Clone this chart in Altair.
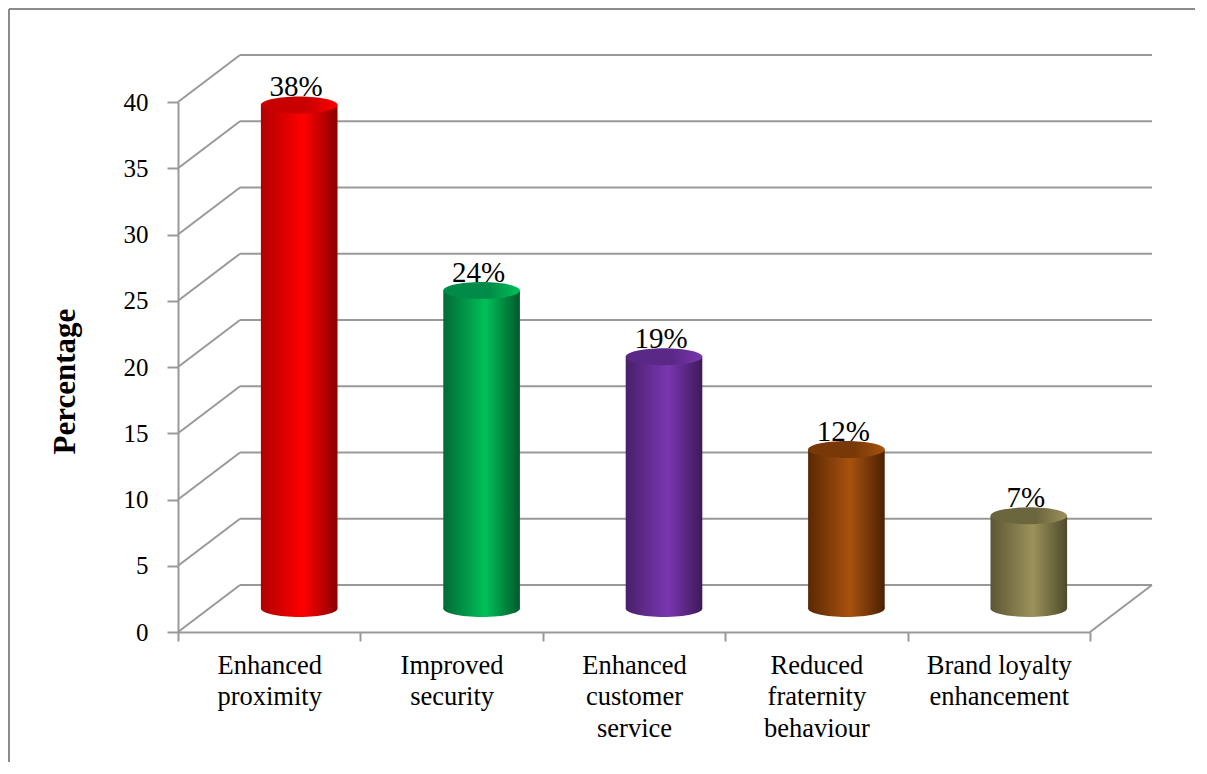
import altair as alt
import pandas as pd

categories = [
    "Enhanced|proximity",
    "Improved|security",
    "Enhanced|customer|service",
    "Reduced|fraternity|behaviour",
    "Brand loyalty|enhancement",
]
values = [38, 24, 19, 12, 7]
value_labels = ["38%", "24%", "19%", "12%", "7%"]
y_ticks = [0, 5, 10, 15, 20, 25, 30, 35, 40]

edge_left = ["#B00000", "#006A36", "#48206A", "#5A2804", "#5C5634"]
mid_colors = ["#FF0000", "#00C058", "#7A36B0", "#A8520E", "#9C925C"]
edge_right = ["#8C0000", "#005A2C", "#3C1A5A", "#4A2003", "#4E4A2C"]
top_colors = ["#C80000", "#008C48", "#5A2886", "#783808", "#6C663E"]

W, H = 912, 530
DX, DY = 62, 47
BAR_DX, BAR_DY = 30, -23.5
BAR_FRAC = 0.42
BAR_W = W / len(categories) * BAR_FRAC
GRID = "#999999"
FONT = "'Liberation Serif', 'Times New Roman', serif"
ELLIPSE = "M -1 0 A 1 0.22 0 1 0 1 0 A 1 0.22 0 1 0 -1 0 Z"

df = pd.DataFrame({"cat": categories, "value": values, "label": value_labels})
ticks = pd.DataFrame({"v": y_ticks})

y_scale = alt.Scale(domain=[0, 40], nice=False)
x_scale = alt.Scale(paddingInner=0, paddingOuter=0)

x_axis = alt.Axis(
    title=None,
    labelExpr="split(datum.label, '|')",
    labelAngle=0,
    labelFont=FONT,
    labelFontSize=26.5,
    labelColor="#000000",
    labelLineHeight=31.5,
    labelPadding=11,
    labelBaseline="top",
    domainColor=GRID,
    domainWidth=2,
    tickColor=GRID,
    tickWidth=2,
    tickSize=9,
    tickBand="extent",
    grid=False,
)
y_axis = alt.Axis(
    title="Percentage",
    titleFont=FONT,
    titleFontSize=31,
    titleFontWeight="bold",
    titleColor="#000000",
    titleAngle=270,
    titleX=-113,
    titleY=279,
    titleAlign="center",
    titleBaseline="middle",
    values=y_ticks,
    labelFont=FONT,
    labelFontSize=25,
    labelColor="#000000",
    labelPadding=19,
    domainColor=GRID,
    domainWidth=2,
    tickColor=GRID,
    tickWidth=2,
    tickSize=11,
    grid=False,
)


def yenc(field):
    return alt.Y(field, scale=y_scale, axis=y_axis)


xe = alt.X("cat:N", sort=categories, scale=x_scale, axis=x_axis)

# border (left and top)
border_top = alt.Chart(ticks).mark_rule(color="#8c8c8c", strokeWidth=2).encode(
    x=alt.value(-169), x2=alt.value(W + 140), y=alt.value(-93)
)
border_left = alt.Chart(ticks).mark_rule(color="#8c8c8c", strokeWidth=2).encode(
    x=alt.value(-169), y=alt.value(-93), y2=alt.value(H + 150)
)

# back wall gridlines
back = alt.Chart(ticks).mark_rule(color=GRID, strokeWidth=2, yOffset=-DY).encode(
    x=alt.value(DX), x2=alt.value(W + DX), y=yenc("v:Q"),
)
# side wall diagonals
side = alt.Chart(ticks).mark_rule(color=GRID, strokeWidth=2, y2Offset=-DY).encode(
    x=alt.value(0), x2=alt.value(DX), y=yenc("v:Q"), y2="v:Q",
)
# right floor edge
floor = alt.Chart(ticks).transform_filter(alt.datum.v == 0).mark_rule(
    color=GRID, strokeWidth=2, y2Offset=-DY
).encode(
    x=alt.value(W), x2=alt.value(W + DX), y=yenc("v:Q"), y2="v:Q",
)

layers = [border_top, border_left, side, back, floor]

for i, cat in enumerate(categories):
    body_grad = alt.Gradient(
        gradient="linear", x1=0, x2=1, y1=0, y2=0,
        stops=[
            alt.GradientStop(color=edge_left[i], offset=0),
            alt.GradientStop(color=mid_colors[i], offset=0.55),
            alt.GradientStop(color=edge_right[i], offset=1),
        ],
    )
    top_grad = alt.Gradient(
        gradient="linear", x1=0, x2=1, y1=0, y2=0,
        stops=[
            alt.GradientStop(color=top_colors[i], offset=0),
            alt.GradientStop(color=top_colors[i], offset=0.6),
            alt.GradientStop(color=mid_colors[i], offset=1),
        ],
    )
    base = alt.Chart(df).transform_filter(alt.datum.cat == cat)
    bottom = base.mark_point(
        shape=ELLIPSE, size=BAR_W ** 2, filled=True, fill=body_grad,
        opacity=1, strokeWidth=0, xOffset=BAR_DX, yOffset=BAR_DY,
    ).encode(x=xe, y=alt.datum(0, scale=y_scale, axis=y_axis))
    body = base.mark_bar(
        fill=body_grad, width=alt.RelativeBandSize(BAR_FRAC),
        xOffset=BAR_DX, yOffset=BAR_DY,
    ).encode(x=xe, y=yenc("value:Q"))
    text = base.mark_text(
        font=FONT, fontSize=29, color="#000000", baseline="alphabetic",
        xOffset=BAR_DX - 3, yOffset=BAR_DY - 9,
    ).encode(x=xe, y=yenc("value:Q"), text="label:N")
    top = base.mark_point(
        shape=ELLIPSE, size=BAR_W ** 2, filled=True, fill=top_grad,
        opacity=1, strokeWidth=0, xOffset=BAR_DX, yOffset=BAR_DY,
    ).encode(x=xe, y=yenc("value:Q"))
    layers += [bottom, body, text, top]

chart = alt.layer(*layers).properties(
    width=W, height=H,
    background="white",
    autosize=alt.AutoSizeParams(type="none"),
    padding={"left": 170, "top": 94, "right": 105, "bottom": 130},
).configure_view(stroke=None)

chart.save("out.html", embed_options={"renderer": "svg", "actions": False})
